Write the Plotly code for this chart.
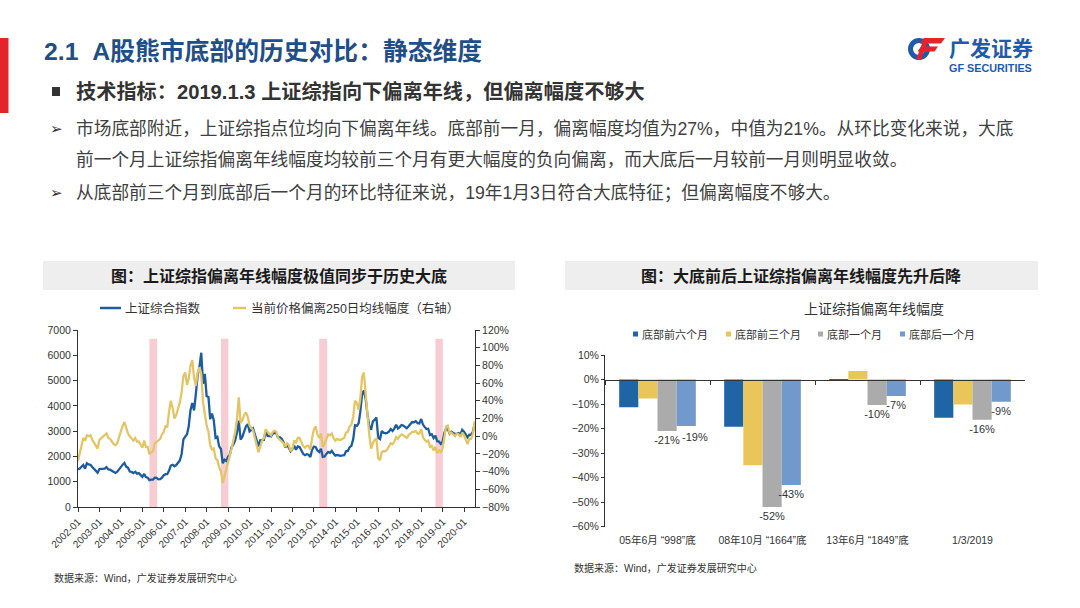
import pandas as pd
import plotly.graph_objects as go

W, H = 1080, 608

# ---------------- data ----------------
# Shanghai Composite index, monthly, 2002-01 .. 2020-07
sse_index = [
    1490, 1520, 1590, 1660, 1515, 1730, 1684, 1670, 1581, 1509, 1452, 1358,   # 2002
    1500, 1512, 1510, 1521, 1577, 1487, 1476, 1422, 1367, 1349, 1398, 1497,   # 2003
    1590, 1675, 1742, 1595, 1555, 1400, 1386, 1342, 1396, 1320, 1340, 1267,   # 2004
    1191, 1306, 1181, 1159, 1060, 1080, 1083, 1162, 1155, 1092, 1099, 1161,   # 2005
    1258, 1299, 1299, 1440, 1641, 1672, 1612, 1658, 1752, 1837, 2099, 2675,   # 2006
    2786, 2881, 3183, 3841, 4109, 3821, 4471, 5218, 5552, 6100, 4871, 5262,   # 2007
    4383, 4348, 3472, 3693, 3433, 2736, 2776, 2397, 2293, 1729, 1872, 1821,   # 2008
    1991, 2082, 2373, 2477, 2633, 2959, 3412, 2667, 2779, 2996, 3195, 3277,   # 2009
    2989, 3051, 3110, 2870, 2592, 2398, 2638, 2639, 2656, 2979, 2820, 2808,   # 2010
    2790, 2905, 2928, 2912, 2743, 2762, 2701, 2568, 2359, 2469, 2333, 2199,   # 2011
    2293, 2429, 2263, 2397, 2373, 2225, 2103, 2047, 2086, 2069, 1980, 2269,   # 2012
    2385, 2366, 2237, 2178, 2301, 1979, 1994, 2098, 2175, 2141, 2220, 2116,   # 2013
    2033, 2056, 2033, 2026, 2039, 2048, 2201, 2218, 2364, 2420, 2683, 3235,   # 2014
    3210, 3310, 3748, 4441, 4612, 4277, 3664, 3206, 3053, 3383, 3446, 3539,   # 2015
    2738, 2688, 3004, 2938, 2917, 2930, 2979, 3085, 3005, 3100, 3250, 3104,   # 2016
    3159, 3242, 3223, 3155, 3117, 3192, 3273, 3361, 3349, 3393, 3317, 3307,   # 2017
    3481, 3259, 3169, 3082, 3095, 2847, 2876, 2725, 2821, 2603, 2588, 2494,   # 2018
    2585, 2941, 3091, 3078, 2899, 2979, 2933, 2886, 2905, 2929, 2872, 3050,   # 2019
    2977, 2880, 2750, 2860, 2852, 2985, 3310,                                 # 2020
]
# Deviation of price from 250-day moving average, %, right axis
deviation_pct = [
    -28, -18, -8, -2, -5, 1, 0, 1, -4, -7, -11, -14,          # 2002
    -4, -2, -1, 2, 3, -2, -3, -6, -9, -10, -8, -1,            # 2003
    6, 12, 16, 8, 3, 0, -3, -5, -2, -6, -6, -9,               # 2004
    -13, -5, -12, -12, -20, -18, -17, -8, -6, -4, -3, 2,      # 2005
    5, 12, 10, 28, 40, 32, 20, 24, 32, 38, 50, 68,            # 2006
    72, 58, 65, 80, 86, 66, 57, 72, 78, 70, 38, 24,           # 2007
    12, 5, -10, -15, -14, -25, -27, -35, -40, -53, -44, -36,  # 2008
    -30, -21, -14, -6, 5, 20, 44, 15, 18, 24, 27, 22,         # 2009
    12, 9, 7, -2, -12, -18, -12, -5, -2, 8, 5, 3,             # 2010
    1, 5, 6, 5, -2, -4, -6, -8, -12, -8, -10, -17,            # 2011
    -14, -5, -7, -2, -2, -7, -11, -13, -11, -11, -15, -2,     # 2012
    8, 11, 2, -2, 3, -12, -9, -3, 2, 1, 3, -2,               # 2013
    -5, -3, -4, -4, -3, -2, 4, 5, 11, 13, 22, 40,             # 2014
    38, 30, 42, 67, 72, 52, 25, 2, -14, -8, -4, -3,           # 2015
    -25, -27, -18, -17, -17, -15, -12, -8, -9, -6, -1, -3,    # 2016
    0, 2, 1, -1, -2, 1, 3, 5, 5, 6, 3, 3,                     # 2017
    8, -1, -4, -6, -5, -12, -11, -16, -12, -19, -16, -18,     # 2018
    -14, 2, 11, 12, 3, 4, 2, 0, 3, 2, -1, 4,                  # 2019
    1, -4, -9, -3, -3, 3, 17,                                 # 2020
]
series_start = "2002-01-01"

# historical bottom windows (pink bands)
band_start = ["2005-05-01", "2008-09-01", "2013-04-01", "2018-09-01"]
band_end = ["2005-09-10", "2009-01-05", "2013-08-15", "2019-01-05"]

# right chart
bottoms = ["05年6月 “998”底", "08年10月 “1664”底", "13年6月 “1849”底", "1/3/2019"]
bar_names = ["底部前六个月", "底部前三个月", "底部一个月", "底部后一个月"]
before_6m = [-11.3, -19.3, -0.5, -15.6]
before_3m = [-7.7, -34.9, 3.5, -10.2]
bottom_1m = [-21.0, -52.0, -10.4, -16.4]
after_1m = [-18.9, -43.0, -6.7, -9.1]
bar_values = [before_6m, before_3m, bottom_1m, after_1m]
# which points carry a value label ("bar" = drawn by the bar, "side" = shifted annotation)
label_mode = [
    ["none"] * 4,
    ["none"] * 4,
    ["bar"] * 4,
    ["side", "bar", "bar", "bar"],
]

BLUE = "#1D5C9E"
YELLOW = "#E4C566"
BAR_COLORS = ["#1F64A4", "#E9C659", "#ABABAB", "#7199CC"]
PINK = "#F7CDD3"
FONT = "Arial, 'Liberation Sans', 'Noto Sans CJK SC', sans-serif"
TXT = "#333333"


def px(x):
    return x / W


def py(y):
    return 1 - y / H


months = pd.date_range(series_start, periods=len(sse_index), freq="MS")

fig = go.Figure()
fig.add_trace(go.Scatter(x=months, y=deviation_pct, name="当前价格偏离250日均线幅度（右轴）",
                         mode="lines", line=dict(color=YELLOW, width=2.3),
                         xaxis="x", yaxis="y2", showlegend=False))
fig.add_trace(go.Scatter(x=months, y=sse_index, name="上证综合指数", mode="lines",
                         line=dict(color=BLUE, width=2.3), xaxis="x", yaxis="y",
                         showlegend=False))

ann = []
for name, vals, color, modes in zip(bar_names, bar_values, BAR_COLORS, label_mode):
    fig.add_trace(go.Bar(
        x=bottoms, y=vals, name=name, marker=dict(color=color, line=dict(width=0)),
        xaxis="x2", yaxis="y3", showlegend=False,
        texttemplate="%{y:.0f}%",
        textposition=["outside" if m == "bar" else "none" for m in modes],
        constraintext="none", cliponaxis=False,
        textfont=dict(size=11, color=TXT, family=FONT),
    ))
    for cat, v, m in zip(bottoms, vals, modes):
        if m == "side":
            ann.append(dict(xref="x2", yref="y3", x=cat, y=v, text=f"{v:.0f}%",
                            showarrow=False, xanchor="left", yanchor="top",
                            xshift=22, yshift=-3,
                            font=dict(size=11, color=TXT, family=FONT)))

# invisible trace carrying the zero-line category axis
fig.add_trace(go.Scatter(x=bottoms, y=[0] * len(bottoms), mode="markers",
                         marker=dict(opacity=0), hoverinfo="skip", showlegend=False,
                         xaxis="x3", yaxis="y3"))

# pink bands
shapes = []
for s, e in zip(band_start, band_end):
    shapes.append(dict(type="rect", xref="x", yref="y", x0=s, x1=e, y0=0, y1=6650,
                       fillcolor=PINK, line_width=0, layer="below"))


def prect(x0, y0, x1, y1, color, layer="below"):
    return dict(type="rect", xref="paper", yref="paper", x0=px(x0), x1=px(x1),
                y0=py(y1), y1=py(y0), fillcolor=color, line_width=0, layer=layer)


def ppath(points, color):
    d = "M " + " L ".join(f"{px(x):.5f},{py(y):.5f}" for x, y in points) + " Z"
    return dict(type="path", xref="paper", yref="paper", path=d, fillcolor=color,
                line_width=0, layer="above")


# red side bar
shapes.append(prect(0, 38, 8.5, 113, "#E3242B"))
# gray title boxes
shapes.append(prect(43, 261, 515, 290, "#EEEEEE"))
shapes.append(prect(565, 261, 1038, 290, "#EEEEEE"))
# subheading square
shapes.append(prect(52, 87, 60, 96, "#333333", layer="above"))
# left legend line samples
shapes.append(dict(type="line", xref="paper", yref="paper", x0=px(100), x1=px(121),
                   y0=py(308), y1=py(308), line=dict(color=BLUE, width=2.5)))
shapes.append(dict(type="line", xref="paper", yref="paper", x0=px(233), x1=px(246),
                   y0=py(308), y1=py(308), line=dict(color=YELLOW, width=2.5)))
# right legend squares
for sx, c in zip([633, 726, 818, 900], BAR_COLORS):
    shapes.append(prect(sx, 331.5, sx + 5, 336.5, c, layer="above"))
# logo
shapes.append(dict(type="circle", xref="paper", yref="paper", x0=px(910.5), x1=px(927.5),
                   y0=py(57.5), y1=py(40.5), line=dict(color="#1F5BAA", width=5)))
shapes.append(ppath([(924, 38), (945, 38), (941, 43.5), (920, 43.5)], "#E3242B"))
shapes.append(ppath([(921, 46.5), (938, 46.5), (934.5, 51.5), (917.5, 51.5)], "#E3242B"))
shapes.append(ppath([(924, 38), (929, 38), (921, 60), (916, 60)], "#E3242B"))


def text(x, y, s, size, color=TXT, bold=False, anchor="left", family=FONT):
    ann.append(dict(xref="paper", yref="paper", x=px(x), y=py(y), text=f"<b>{s}</b>" if bold else s,
                    showarrow=False, xanchor=anchor, yanchor="middle",
                    font=dict(size=size, color=color, family=family)))


text(42, 52, "2.1\u00a0\u00a0A股熊市底部的历史对比：静态维度", 24.8, "#1F4E89", bold=True)
text(74, 91.5, "技术指标：2019.1.3 上证综指向下偏离年线，但偏离幅度不够大", 20.2, "#333333", bold=True)
text(48, 128.5, "➢", 15, "#333333", family="'DejaVu Sans', sans-serif")
text(48, 193.5, "➢", 15, "#333333", family="'DejaVu Sans', sans-serif")
text(74, 128.5, "市场底部附近，上证综指点位均向下偏离年线。底部前一月，偏离幅度均值为27%，中值为21%。从环比变化来说，大底", 17.7, "#404040")
text(74, 160.5, "前一个月上证综指偏离年线幅度均较前三个月有更大幅度的负向偏离，而大底后一月较前一月则明显收敛。", 17.7, "#404040")
text(74, 193.5, "从底部前三个月到底部后一个月的环比特征来说，19年1月3日符合大底特征；但偏离幅度不够大。", 17.7, "#404040")
# logo texts
text(947, 48.5, "广发证券", 21, "#1F5BAA", bold=True)
text(947, 67.5, "GF SECURITIES", 10.8, "#1F5BAA", bold=True)
# chart titles
text(279, 276, "图：上证综指偏离年线幅度极值同步于历史大底", 16, "#1A1A1A", bold=True, anchor="center")
text(801, 276, "图：大底前后上证综指偏离年线幅度先升后降", 16, "#1A1A1A", bold=True, anchor="center")
# left legend
text(123, 308, "上证综合指数", 12.5)
text(249, 308, "当前价格偏离250日均线幅度（右轴）", 12.5)
# right chart title & legend
text(801.5, 308.5, "上证综指偏离年线幅度", 14)
for tx, nm in zip([640, 733, 825, 907], bar_names):
    text(tx, 334, nm, 11)
# sources
text(52, 578, "数据来源：Wind，广发证券发展研究中心", 10)
text(572, 568, "数据来源：Wind，广发证券发展研究中心", 10)

# axis geometry (pixels)
L_X0, L_X1, L_Y0, L_Y1 = 78, 475, 330, 507
R_X0, R_X1, R_Y0, R_Y1 = 605, 1025, 355, 526.7
r_lo, r_hi = -60, 10
r_d0, r_d1 = py(R_Y1), py(R_Y0)
zero_pos = r_d0 + (0 - r_lo) / (r_hi - r_lo) * (r_d1 - r_d0)

axis_common = dict(showgrid=False, zeroline=False, automargin=False, showline=True,
                   linecolor="#333333", linewidth=1, ticks="outside", tickcolor="#333333",
                   tickfont=dict(size=10, color=TXT, family=FONT))

fig.update_layout(
    width=W, height=H, autosize=False,
    margin=dict(l=0, r=0, t=0, b=0),
    paper_bgcolor="white", plot_bgcolor="rgba(0,0,0,0)",
    font=dict(family=FONT, color=TXT),
    barmode="group", bargap=0.27, bargroupgap=0,
    shapes=shapes, annotations=ann,
    xaxis=dict(axis_common, domain=[px(L_X0), px(L_X1)], anchor="y", type="date",
               range=["2002-01-01", "2020-07-06"], tick0="2002-01-01", dtick="M12",
               tickformat="%Y-%m", tickangle=-45, ticklen=4),
    yaxis=dict(axis_common, domain=[py(L_Y1), py(L_Y0)], anchor="x", range=[0, 7000],
               dtick=1000, ticklen=4, tickfont=dict(size=10.5, color=TXT, family=FONT)),
    yaxis2=dict(axis_common, overlaying="y", side="right", anchor="x", range=[-80, 120],
                dtick=20, ticksuffix="%", ticklen=4,
                tickfont=dict(size=10.5, color=TXT, family=FONT)),
    xaxis2=dict(showgrid=False, zeroline=False, automargin=False, showline=False,
                domain=[px(R_X0), px(R_X1)], anchor="y3", type="category",
                range=[-0.5, len(bottoms) - 0.5], ticks="", ticklabelstandoff=6,
                tickfont=dict(size=10.5, color=TXT, family=FONT)),
    yaxis3=dict(axis_common, domain=[r_d0, r_d1], anchor="x2", range=[r_lo, r_hi],
                dtick=10, ticksuffix="%", ticklen=3,
                tickfont=dict(size=10.5, color=TXT, family=FONT)),
    xaxis3=dict(axis_common, overlaying="x2", anchor="free", position=zero_pos,
                type="category", range=[-0.5, len(bottoms) - 0.5], tickson="boundaries",
                ticklen=4, showticklabels=False),
)

fig.write_html("out.html", config={"displayModeBar": False},
               post_script="document.body.style.margin='0';document.body.style.overflow='hidden';")
